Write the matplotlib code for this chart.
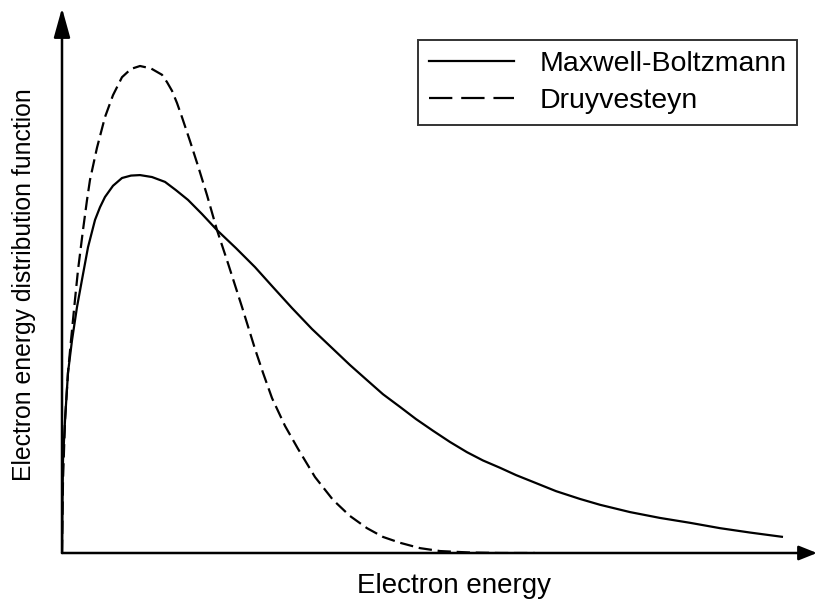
import matplotlib
matplotlib.use("Agg")
import matplotlib.pyplot as plt
from matplotlib.lines import Line2D

plt.rcParams['font.family'] = ['Liberation Sans', 'DejaVu Sans']

# Electron energy (arbitrary units) and distribution values
mb_energy = [0.000, 0.007, 0.014, 0.042, 0.083, 0.139, 0.208, 0.277, 0.361, 0.458,
             0.527, 0.596, 0.707, 0.832, 0.957, 1.082, 1.248, 1.429, 1.581, 1.748,
             1.942, 2.150, 2.413, 2.677, 2.926, 3.190, 3.467, 3.759, 3.994, 4.230,
             4.452, 4.688, 4.910, 5.146, 5.381, 5.617, 5.839, 6.075, 6.297, 6.533,
             6.852, 7.184, 7.462, 7.878, 8.294, 8.710, 9.126, 9.542, 10.000]
mb_value = [0.000, 0.109, 0.191, 0.273, 0.370, 0.437, 0.505, 0.561, 0.628, 0.684,
            0.710, 0.731, 0.754, 0.770, 0.775, 0.776, 0.772, 0.762, 0.745, 0.725,
            0.696, 0.663, 0.626, 0.587, 0.546, 0.503, 0.460, 0.419, 0.386, 0.355,
            0.326, 0.300, 0.275, 0.251, 0.228, 0.207, 0.190, 0.175, 0.160, 0.146,
            0.127, 0.111, 0.099, 0.084, 0.072, 0.062, 0.051, 0.042, 0.033]

dr_energy = [0.000, 0.014, 0.042, 0.083, 0.125, 0.180, 0.222, 0.291, 0.347, 0.388,
             0.485, 0.596, 0.707, 0.832, 0.957, 1.082, 1.234, 1.387, 1.456, 1.526,
             1.595, 1.664, 1.775, 1.886, 2.011, 2.150, 2.302, 2.497, 2.677, 2.788,
             2.913, 3.093, 3.273, 3.509, 3.759, 3.994, 4.230, 4.452, 4.688, 4.965,
             5.243, 5.659, 6.075, 6.560]
dr_value = [0.000, 0.150, 0.273, 0.370, 0.437, 0.520, 0.581, 0.663, 0.725, 0.766,
            0.832, 0.895, 0.940, 0.977, 0.994, 1.000, 0.995, 0.982, 0.967, 0.949,
            0.924, 0.895, 0.846, 0.795, 0.735, 0.663, 0.595, 0.505, 0.419, 0.370,
            0.318, 0.261, 0.214, 0.156, 0.109, 0.076, 0.051, 0.033, 0.021, 0.010,
            0.004, 0.001, 0.000, 0.000]

labels = ["Maxwell-Boltzmann", "Druyvesteyn"]
xlabel = "Electron energy"
ylabel = "Electron energy distribution function"

W, H = 818, 603
fig = plt.figure(figsize=(W / 100, H / 100), dpi=100)
x0, y0, x1, y1 = 62, 553, 817, 8
ax = fig.add_axes([x0 / W, (H - y0) / H, (x1 - x0) / W, (y0 - y1) / H])
ax.set_xlim(0, (x1 - x0) / 72.1)
ax.set_ylim(0, (y0 - y1) / 487.0)
for s in ax.spines.values():
    s.set_visible(False)
ax.set_xticks([])
ax.set_yticks([])

lw = 1.6
dash = (6.0, 2.6)
ax.plot(mb_energy, mb_value, color='black', lw=lw, solid_capstyle='butt',
        solid_joinstyle='round')
ax.plot(dr_energy, dr_value, color='black', lw=lw, dashes=dash,
        dash_joinstyle='round')

# axes with arrows
ax.annotate('', xy=(1, 0), xytext=(0, 0), xycoords='axes fraction',
            arrowprops=dict(arrowstyle='-|>,head_length=0.55,head_width=0.22',
                            mutation_scale=20, lw=1.8, color='black',
                            shrinkA=0, shrinkB=0))
ax.annotate('', xy=(0, 1), xytext=(0, 0), xycoords='axes fraction',
            arrowprops=dict(arrowstyle='-|>,head_length=0.9,head_width=0.25',
                            mutation_scale=20, lw=1.8, color='black',
                            shrinkA=0, shrinkB=0))

fig.text(454 / W, 1 - 586 / H, xlabel, ha='center', va='center', fontsize=20)
fig.text(24 / W, 1 - 285 / H, ylabel, ha='center', va='center', rotation=90,
         fontsize=17.8)

handles = [Line2D([], [], color='black', lw=lw),
           Line2D([], [], color='black', lw=lw, dashes=(10.5, 4.0))]
leg = ax.legend(handles, labels, loc='upper right',
                bbox_to_anchor=(797 / W, 1 - 40 / H), bbox_transform=fig.transFigure,
                fontsize=20.5, frameon=True, fancybox=False, edgecolor='black',
                handlelength=3.0, handletextpad=0.88, labelspacing=0.4,
                borderpad=0.375, borderaxespad=0)
leg.get_frame().set_linewidth(1.4)

fig.savefig("out.png", dpi=100)
